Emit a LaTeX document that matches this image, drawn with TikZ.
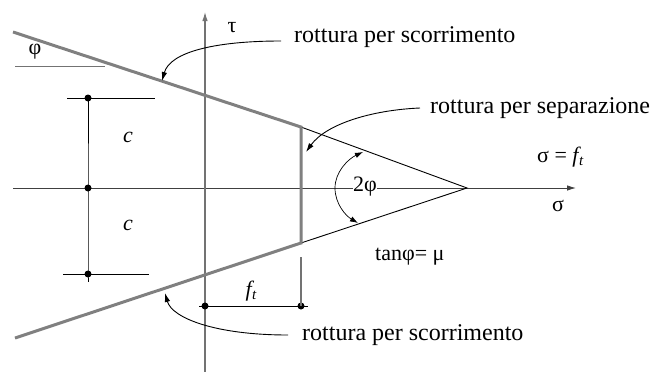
\documentclass[tikz,border=0pt]{standalone}
\usepackage{fontspec}
\setmainfont{Liberation Serif}
\usetikzlibrary{arrows.meta}
\begin{document}
\begin{tikzpicture}[x=1pt,y=-1pt,
  thickgray/.style={line width=3pt, draw=black!50},
  thinline/.style={line width=0.9pt, draw=black},
  grayline/.style={line width=1.1pt, draw=black!55},
  tipend/.style={-{Latex[length=9pt,width=5.5pt]}},
  bothtips/.style={{Latex[length=8pt,width=5.5pt]}-{Latex[length=8pt,width=5.5pt]}},
  lbl/.style={font=\fontsize{24}{27}\selectfont, inner sep=0pt, anchor=base west},
  sym/.style={font=\fontsize{22}{25}\selectfont, inner sep=0pt},
  dot/.style={circle, fill=black, inner sep=0pt, minimum size=7pt},
]
\useasboundingbox (0,0) rectangle (651,372);

% geometry points
\coordinate (xl) at (13,188);
\coordinate (xr) at (576,188);
\coordinate (yt) at (205,12);
\coordinate (yb) at (205,372);
\coordinate (A) at (13,32);
\coordinate (B) at (301,127);
\coordinate (C) at (301,243);
\coordinate (D) at (15,338);
\coordinate (V) at (467,188);

% axes
\draw[thinline, draw=black!75, tipend] (xl) -- (xr);
\draw[grayline, tipend] (yb) -- (yt);

% failure envelope
\draw[thinline] (B) -- (V) -- (C);
\draw[thickgray] (A) -- (B) -- (C) -- (D);

% phi reference line
\coordinate (p1) at (15,66);
\coordinate (p2) at (105,66);
\draw[grayline, line width=0.9pt] (p1) -- (p2);

% c dimensions
\coordinate (c1l) at (67,98);  \coordinate (c1r) at (155,98);
\coordinate (c3l) at (63,274); \coordinate (c3r) at (149,274);
\coordinate (cb) at (88,282);
\draw[thinline] (c1l) -- (c1r);
\draw[thinline] (c3l) -- (c3r);
\node[dot] (d1) at (88,98) {};
\node[dot] (d2) at (88,188) {};
\node[dot] (d3) at (88,274) {};
\draw[thinline] (d1.center) -- (d2.center) -- (d3.center) -- (cb);

% f_t dimension
\coordinate (fl) at (199,306);
\coordinate (fr) at (308,306);
\coordinate (ftop) at (301,257);
\node[dot] (d4) at (205,306) {};
\node[dot] (d5) at (301,306) {};
\draw[thinline] (fl) -- (fr);
\draw[grayline, line width=1.2pt] (ftop) -- (d5.center);

% labels
\node[sym] (tau) at (232,28) {τ};
\node[sym] (phi) at (35,52) {φ};
\node[sym, font=\fontsize{22}{25}\selectfont\itshape] (cu) at (128,137) {c};
\node[sym, font=\fontsize{22}{25}\selectfont\itshape] (cl) at (128,225) {c};
\node[sym] (ft) at (251,291) {\itshape f\kern0.5pt\raisebox{-0.35ex}{\fontsize{15}{17}\selectfont t}};
\node[sym, fill=white, inner sep=0.5pt] (twophi) at (365,187) {2φ};
\node[sym, anchor=west] (sft) at (537,157) {σ = \itshape f\kern0.5pt\raisebox{-0.35ex}{\fontsize{15}{17}\selectfont t}};
\node[sym] (sig) at (558,206) {σ};
\node[sym, anchor=west] (tanphi) at (375,257) {tanφ= μ};

\node[lbl] (l1) at (294,42) {rottura per scorrimento};
\node[lbl] (l2) at (430,113) {rottura per separazione};
\node[lbl] (l3) at (302,340) {rottura per scorrimento};

% leader arrows
\coordinate (s1) at (281,41);
\coordinate (t1) at (162,81);
\draw[thinline, tipend] (s1) .. controls (215,41) and (170,52) .. (t1);
\coordinate (s2) at (420,108);
\coordinate (t2) at (306,152);
\draw[thinline, tipend] (s2) .. controls (372,110) and (326,124) .. (t2);
\coordinate (s3) at (288,335);
\coordinate (t3) at (165,293);
\draw[thinline, tipend] (s3) .. controls (215,335) and (172,318) .. (t3);

% 2phi arc
\coordinate (a1) at (363,152);
\coordinate (am) at (335,188);
\coordinate (a2) at (358,223);
\draw[thinline, line width=0.7pt, bothtips] (a1) .. controls (348,159) and (335,172) .. (am) .. controls (335,204) and (346,216) .. (a2);
\end{tikzpicture}
\end{document}
